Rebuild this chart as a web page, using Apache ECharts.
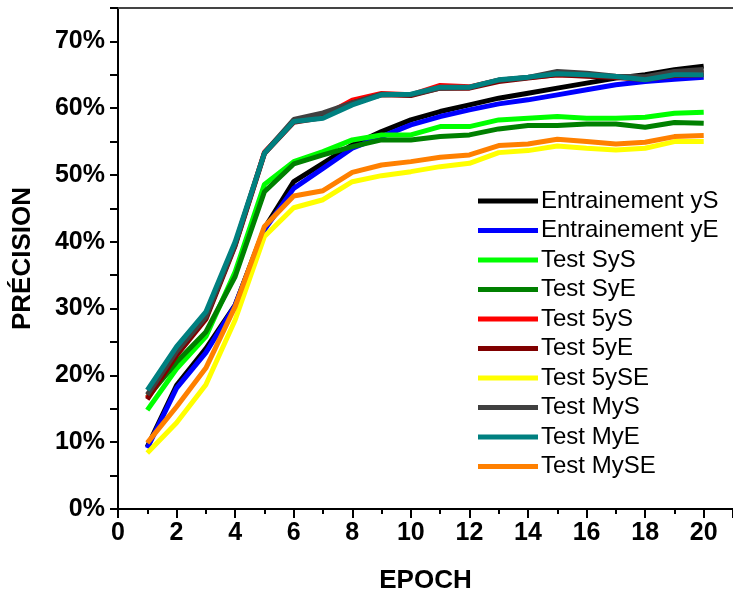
<!DOCTYPE html>
<html>
<head>
<meta charset="utf-8">
<script src="https://cdn.jsdelivr.net/npm/echarts@6/dist/echarts.min.js"></script>
<style>
  html, body { margin: 0; padding: 0; background: #fff; }
  #chart { width: 733px; height: 594px; }
</style>
</head>
<body>
<div id="chart"></div>
<script>
const epochs = [1, 2, 3, 4, 5, 6, 7, 8, 9, 10, 11, 12, 13, 14, 15, 16, 17, 18, 19, 20]

// précision en %
const trainYS = [9.3, 18.5, 24.0, 30.5, 42.0, 49.0, 51.75, 54.5, 56.5, 58.25, 59.5, 60.5, 61.5, 62.25, 63.0, 63.75, 64.5, 65.0, 65.75, 66.3]
const trainYE = [9.1, 18.1, 23.4, 30.5, 41.8, 48.0, 51.0, 54.0, 55.75, 57.5, 58.75, 59.75, 60.65, 61.25, 62.0, 62.75, 63.5, 64.0, 64.35, 64.65]
const testSyS = [14.8, 21.0, 25.8, 35.5, 48.6, 52.0, 53.5, 55.25, 56.0, 56.0, 57.25, 57.25, 58.25, 58.5, 58.75, 58.5, 58.5, 58.65, 59.25, 59.4]
const testSyE = [16.7, 22.0, 26.5, 34.8, 47.5, 51.65, 53.0, 54.25, 55.25, 55.25, 55.75, 56.0, 56.9, 57.4, 57.4, 57.65, 57.65, 57.15, 57.85, 57.75]
const test5yS = [16.6, 23.3, 28.6, 39.6, 53.4, 58.0, 58.8, 61.2, 62.2, 62.0, 63.4, 63.2, 64.2, 64.6, 65.0, 64.9, 64.7, 64.4, 65.0, 65.3]
const test5yE = [16.4, 23.0, 28.4, 39.4, 53.2, 57.9, 58.6, 60.8, 62.0, 61.9, 63.0, 63.0, 64.0, 64.5, 65.0, 64.8, 64.6, 64.3, 64.9, 65.0]
const test5ySE = [8.4, 12.9, 18.6, 28.3, 40.8, 45.1, 46.3, 49.0, 49.9, 50.5, 51.25, 51.75, 53.35, 53.65, 54.35, 54.0, 53.75, 54.0, 55.0, 55.0]
const testMyS = [17.1, 23.6, 28.8, 39.6, 53.3, 58.3, 59.3, 60.8, 62.1, 62.0, 63.0, 63.1, 64.2, 64.6, 65.5, 65.25, 64.8, 64.7, 65.5, 65.8]
const testMyE = [17.8, 24.3, 29.5, 40.0, 53.25, 58.0, 58.5, 60.5, 62.0, 62.1, 63.15, 63.15, 64.25, 64.65, 65.15, 65.0, 64.75, 64.25, 65.0, 65.0]
const testMySE = [9.9, 15.3, 21.1, 30.3, 42.3, 46.85, 47.65, 50.4, 51.5, 52.0, 52.65, 53.0, 54.4, 54.65, 55.35, 55.0, 54.65, 54.9, 55.75, 55.9]

const seriesDefs = [
  { name: 'Entrainement yS', data: trainYS, color: '#000000' },
  { name: 'Entrainement yE', data: trainYE, color: '#0000ff' },
  { name: 'Test SyS', data: testSyS, color: '#00ff00' },
  { name: 'Test SyE', data: testSyE, color: '#008000' },
  { name: 'Test 5yS', data: test5yS, color: '#ff0000' },
  { name: 'Test 5yE', data: test5yE, color: '#800000' },
  { name: 'Test 5ySE', data: test5ySE, color: '#ffff00' },
  { name: 'Test MyS', data: testMyS, color: '#404040' },
  { name: 'Test MyE', data: testMyE, color: '#008080' },
  { name: 'Test MySE', data: testMySE, color: '#ff8000' }
]

const font = '"Liberation Sans", Arial, sans-serif'

const chart = echarts.init(document.getElementById('chart'))

chart.setOption({
  animation: false,
  grid: { left: 118, right: 0, top: 8, bottom: 85, outerBoundsMode: 'none', containLabel: false },
  legend: {
    orient: 'vertical',
    left: 478,
    top: 189,
    padding: 0,
    icon: 'rect',
    itemWidth: 60,
    itemHeight: 5,
    itemGap: 5.5,
    textStyle: { fontFamily: font, fontSize: 24, color: '#000', lineHeight: 24, padding: [0, 0, 0, -2] },
    data: seriesDefs.map(s => s.name)
  },
  xAxis: [
    {
      type: 'value',
      min: 0,
      max: 21,
      interval: 1,
      name: 'EPOCH',
      nameLocation: 'middle',
      nameGap: 59,
      nameTextStyle: { fontFamily: font, fontSize: 26, fontWeight: 'bold', color: '#000' },
      splitLine: { show: false },
      axisLine: { lineStyle: { color: '#000', width: 2 } },
      axisTick: { length: 5, lineStyle: { color: '#000', width: 2 } },
      axisLabel: {
        margin: 12,
        fontFamily: font,
        fontSize: 25,
        fontWeight: 'bold',
        color: '#000',
        formatter: v => (v % 2 === 0 && v <= 20 ? String(v) : '')
      }
    },
    {
      type: 'value',
      min: 0,
      max: 21,
      interval: 2,
      position: 'bottom',
      splitLine: { show: false },
      axisLine: { show: false },
      axisTick: { length: 9, lineStyle: { color: '#000', width: 2 } },
      axisLabel: { show: false }
    },
    {
      type: 'value',
      min: 0,
      max: 21,
      position: 'top',
      splitLine: { show: false },
      axisLine: { lineStyle: { color: '#444', width: 2 } },
      axisTick: { show: false },
      axisLabel: { show: false }
    }
  ],
  yAxis: {
    type: 'value',
    min: 0,
    max: 75,
    interval: 5,
    name: 'PRÉCISION',
    nameLocation: 'middle',
    nameGap: 82,
    nameTextStyle: { fontFamily: font, fontSize: 26, fontWeight: 'bold', color: '#000' },
    splitLine: { show: false },
    axisLine: { lineStyle: { color: '#000', width: 2 } },
    axisTick: { length: 8, lineStyle: { color: '#000', width: 2 } },
    axisLabel: {
      margin: 13,
      fontFamily: font,
      fontSize: 25,
      fontWeight: 'bold',
      color: '#000',
      formatter: v => (v % 10 === 0 ? v + '%' : '')
    }
  },
  series: seriesDefs.map(s => ({
    name: s.name,
    type: 'line',
    xAxisIndex: 0,
    data: epochs.map((e, i) => [e, s.data[i]]),
    showSymbol: false,
    symbol: 'none',
    color: s.color,
    lineStyle: { color: s.color, width: 5 }
  }))
})
</script>
</body>
</html>
